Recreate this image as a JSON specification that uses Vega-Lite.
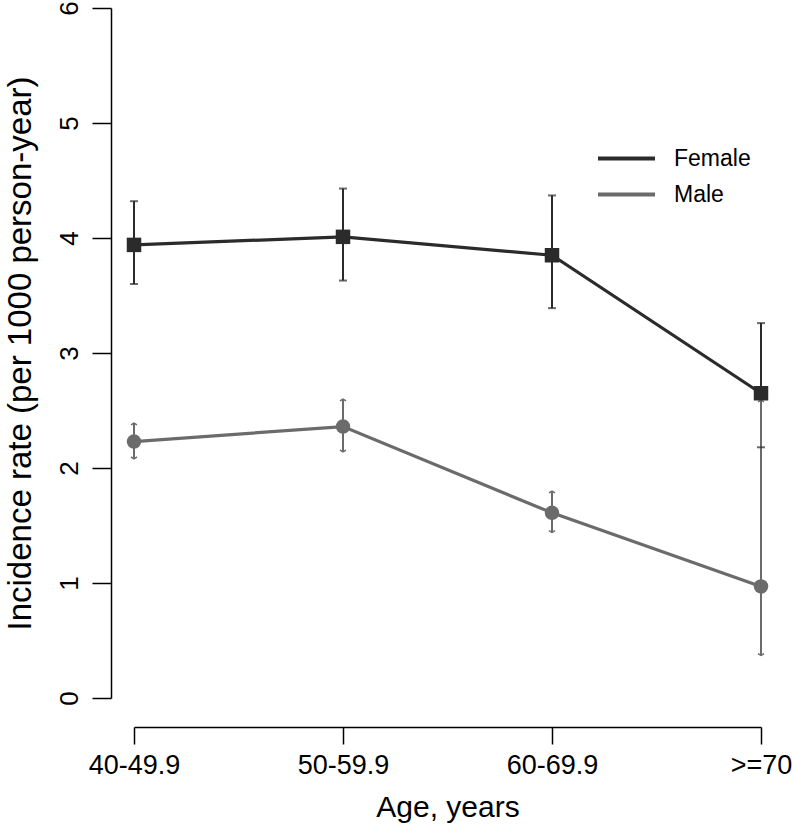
{
  "$schema": "https://vega.github.io/schema/vega-lite/v6.json",
  "width": 627,
  "height": 690,
  "autosize": {"type": "none"},
  "padding": {"left": 134, "top": 8, "right": 31, "bottom": 138},
  "background": "white",
  "config": {"view": {"stroke": null}, "font": "Liberation Sans"},
  "data": {"values": [
    {"age": "40-49.9", "sex": "Female", "rate": 3.94, "lo": 3.60, "hi": 4.32},
    {"age": "50-59.9", "sex": "Female", "rate": 4.01, "lo": 3.63, "hi": 4.43},
    {"age": "60-69.9", "sex": "Female", "rate": 3.85, "lo": 3.39, "hi": 4.37},
    {"age": ">=70", "sex": "Female", "rate": 2.65, "lo": 2.18, "hi": 3.26},
    {"age": "40-49.9", "sex": "Male", "rate": 2.23, "lo": 2.08, "hi": 2.39},
    {"age": "50-59.9", "sex": "Male", "rate": 2.36, "lo": 2.14, "hi": 2.60},
    {"age": "60-69.9", "sex": "Male", "rate": 1.61, "lo": 1.44, "hi": 1.80},
    {"age": ">=70", "sex": "Male", "rate": 0.97, "lo": 0.37, "hi": 2.59}
  ]},
  "encoding": {
    "x": {
      "field": "age", "type": "ordinal",
      "sort": ["40-49.9", "50-59.9", "60-69.9", ">=70"],
      "scale": {"type": "point", "padding": 0},
      "axis": {
        "title": "Age, years", "offset": 29, "tickSize": 17, "labelPadding": 8,
        "labelFontSize": 27, "labelAngle": 0, "labelColor": "black", "labelFlush": false,
        "labelOverlap": false, "domainColor": "black", "tickColor": "black",
        "domainWidth": 1.5, "tickWidth": 1.5, "grid": false,
        "titleFontSize": 30, "titleFontWeight": "normal", "titleColor": "black", "titlePadding": 14
      }
    },
    "color": {
      "field": "sex", "type": "nominal",
      "scale": {"domain": ["Female", "Male"], "range": ["#2b2b2b", "#6b6b6b"]},
      "legend": {
        "orient": "none", "legendX": 462, "legendY": 139, "title": null, "padding": 0,
        "symbolType": "stroke", "symbolSize": 3249, "symbolStrokeWidth": 4,
        "clipHeight": 23,
        "labelFontSize": 23, "labelColor": "black", "labelOffset": 17, "rowPadding": 12,
        "encode": {"symbols": {"update": {"stroke": {"scale": "color", "field": "value"}, "fill": {"value": "transparent"}, "shape": {"value": "stroke"}, "strokeWidth": {"value": 4}}}}
      }
    }
  },
  "layer": [
    {
      "mark": {"type": "line", "strokeWidth": 3.2},
      "encoding": {"y": {"field": "rate", "type": "quantitative", "scale": {"domain": [0, 6], "nice": false, "zero": false},
          "axis": {
            "title": "Incidence rate (per 1000 person-year)", "values": [0, 1, 2, 3, 4, 5, 6], "format": "d",
            "offset": 23, "tickSize": 19, "labelPadding": 15, "labelAngle": -90,
            "labelAlign": "center", "labelBaseline": "alphabetic", "labelFontSize": 26,
            "labelColor": "black", "domainColor": "black", "tickColor": "black",
            "domainWidth": 1.5, "tickWidth": 1.5, "grid": false,
            "titleFontSize": 33, "titleFontWeight": "normal", "titleColor": "black", "titlePadding": 19
          }}}
    },
    {
      "mark": {"type": "rule", "strokeWidth": 2},
      "encoding": {
        "y": {"field": "lo", "type": "quantitative"},
        "y2": {"field": "hi"}
      }
    },
    {
      "transform": [{"filter": "datum.sex === 'Female'"}],
      "mark": {"type": "tick", "size": 8, "thickness": 2, "orient": "horizontal"},
      "encoding": {"y": {"field": "lo", "type": "quantitative"}}
    },
    {
      "transform": [{"filter": "datum.sex === 'Female'"}],
      "mark": {"type": "tick", "size": 8, "thickness": 2, "orient": "horizontal"},
      "encoding": {"y": {"field": "hi", "type": "quantitative"}}
    },
    {
      "transform": [{"filter": "datum.sex === 'Male'"}],
      "mark": {"type": "point", "shape": "M-1,0.6L0,0L1,0.6", "filled": false, "strokeWidth": 1.5, "size": 36, "opacity": 1},
      "encoding": {"y": {"field": "hi", "type": "quantitative"}}
    },
    {
      "transform": [{"filter": "datum.sex === 'Male'"}],
      "mark": {"type": "point", "shape": "M-1,-0.6L0,0L1,-0.6", "filled": false, "strokeWidth": 1.5, "size": 36, "opacity": 1},
      "encoding": {"y": {"field": "lo", "type": "quantitative"}}
    },
    {
      "mark": {"type": "point", "filled": true, "size": 210, "opacity": 1},
      "encoding": {
        "y": {"field": "rate", "type": "quantitative"},
        "shape": {"condition": {"test": "datum.sex === 'Female'", "value": "square"}, "value": "circle"}
      }
    }
  ]
}
